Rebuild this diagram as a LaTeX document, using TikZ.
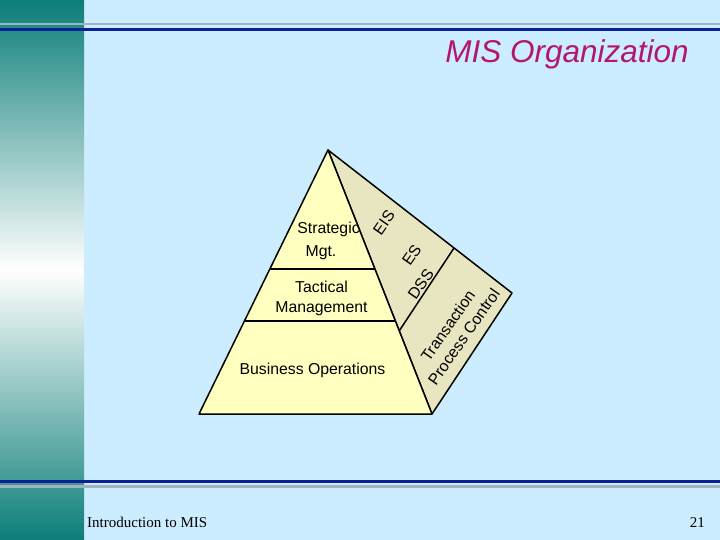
\documentclass[tikz,border=0pt]{standalone}
\usepackage{fontspec}
\setmainfont{Liberation Sans}
\newfontfamily\footfont{Liberation Serif}
\usetikzlibrary{calc}
\definecolor{bgblue}{RGB}{204,236,255}
\definecolor{bandteal}{RGB}{12,126,120}
\definecolor{greyline}{RGB}{160,180,192}
\definecolor{blueline}{RGB}{12,32,150}
\definecolor{pyrfront}{RGB}{255,255,192}
\definecolor{pyrside}{RGB}{232,230,192}
\definecolor{titlecol}{RGB}{178,22,110}
\begin{document}
\begin{tikzpicture}[x=1pt,y=-1pt,
  edge/.style={line width=1.5pt, draw=black, line join=round},
  lbl/.style={font=\fontsize{15.8}{18}\selectfont, inner sep=0pt},
  sidelbl/.style={lbl, rotate=55, anchor=center},
  footer/.style={font=\footfont\fontsize{15}{18}\selectfont, inner sep=0pt, anchor=base west}]
\useasboundingbox (0,0) rectangle (720,540);
% background
\fill[bgblue] (0,0) rectangle (720,540);
\shade[top color=bandteal, bottom color=bandteal, middle color=white] (0,0) rectangle (84,540);
% rules
\draw[line width=2.5pt, greyline] (0,24) -- (720,24);
\draw[line width=3pt, blueline] (0,29.5) -- (720,29.5);
\draw[line width=3pt, blueline] (0,481) -- (720,481);
\draw[line width=2.5pt, greyline] (0,486.5) -- (720,486.5);
% title
\node[font=\itshape\fontsize{31.5}{36}\selectfont, text=titlecol, inner sep=0pt, anchor=base east] (title) at (689,63) {MIS Organization};
% pyramid
\coordinate (apex) at (328,150);
\coordinate (bl) at (199,414);
\coordinate (br) at (432,414);
\coordinate (rp) at (512,293);
\filldraw[edge, fill=pyrside] (apex) -- (rp) -- (br) -- cycle;
\filldraw[edge, fill=pyrfront] (apex) -- (br) -- (bl) -- cycle;
\draw[edge] ($(apex)!0.4508!(bl)$) -- ($(apex)!0.4508!(br)$);
\draw[edge] ($(apex)!0.6477!(bl)$) -- ($(apex)!0.6477!(br)$);
\draw[edge] ($(apex)!0.685!(rp)$) -- ($(apex)!0.685!(br)$);
% level labels
\node[lbl, anchor=base] (strat) at (328.5,233.3) {Strategic};
\node[lbl, anchor=base] (mgt) at (321,256) {Mgt.};
\node[lbl, anchor=base] (tact) at (321.5,292.3) {Tactical};
\node[lbl, anchor=base] (mgmt) at (321.5,312.7) {Management};
\node[lbl, anchor=base] (busops) at (312.5,374.3) {Business Operations};
% side labels
\node[sidelbl] (eis) at (384,222.5) {EIS};
\node[sidelbl] (es) at (411.7,255) {ES};
\node[sidelbl] (dss) at (420.8,284) {DSS};
\node[sidelbl, align=center, font=\fontsize{15.8}{19.3}\selectfont] (tpc) at (455.8,331.2) {Transaction\\Process Control};
% footer
\node[footer] (foot) at (87,527) {Introduction to MIS};
\node[footer, anchor=base east] (page) at (705,527) {21};
\end{tikzpicture}
\end{document}
